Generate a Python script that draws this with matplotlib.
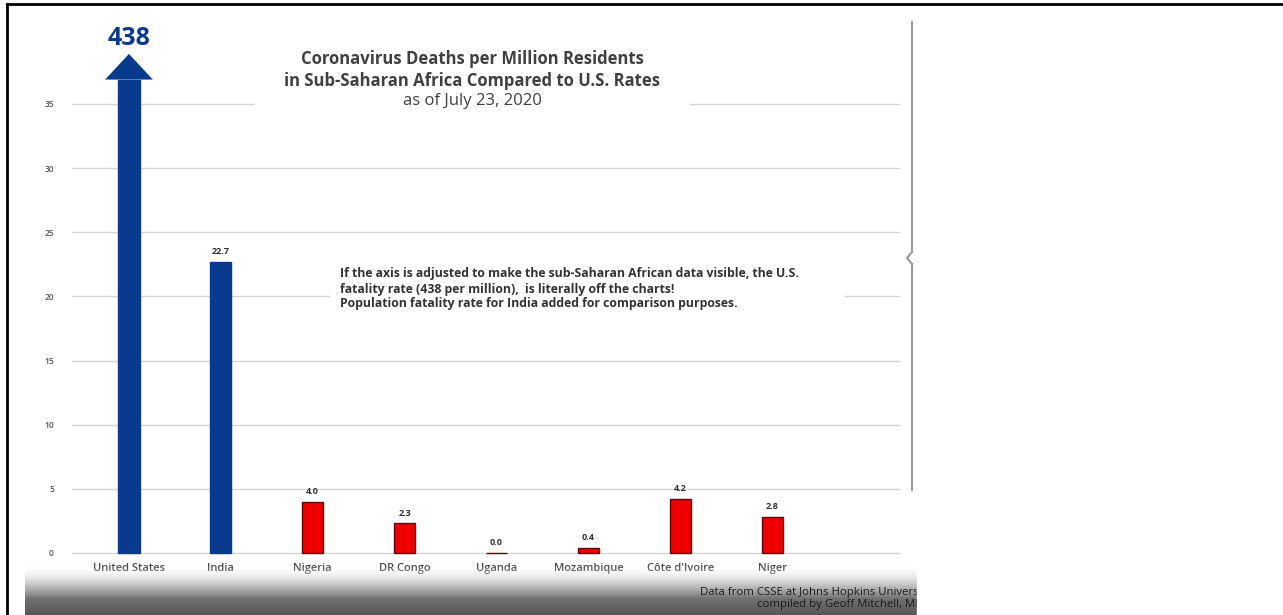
import matplotlib.pyplot as plt
from matplotlib.patches import Rectangle
from matplotlib.colors import LinearSegmentedColormap
import numpy as np

plt.rcParams['font.family'] = ['Open Sans', 'DejaVu Sans']

countries = ['United States', 'India', 'Nigeria', 'DR Congo', 'Uganda',
             'Mozambique', "Côte d'Ivoire", 'Niger']
deaths = [438, 22.7, 4.0, 2.3, 0.0, 0.4, 4.2, 2.8]
bar_colors = ['#0a3a8e', '#0a3a8e', '#ee0000', '#ee0000', '#ee0000',
              '#ee0000', '#ee0000', '#ee0000']
edge_colors = ['#0a3a8e', '#0a3a8e', '#5a0a0a', '#5a0a0a', '#5a0a0a',
               '#5a0a0a', '#5a0a0a', '#5a0a0a']
yticks = [0, 5, 10, 15, 20, 25, 30, 35]

title_lines = ['Coronavirus Deaths per Million Residents',
               'in Sub-Saharan Africa Compared to U.S. Rates']
subtitle = 'as of July 23, 2020'
note = ('If the axis is adjusted to make the sub-Saharan African data visible, the U.S.\n'
        'fatality rate (438 per million),  is literally off the charts!\n'
        'Population fatality rate for India added for comparison purposes.')
source = ['Data from CSSE at Johns Hopkins University',
          'compiled by Geoff Mitchell, MD, MPH']

W, H = 1283, 615
fig = plt.figure(figsize=(W / 100, H / 100), dpi=100)
fig.patch.set_facecolor('white')

# main chart axes, placed in pixel terms (12.83 px per unit)
ax = fig.add_axes([72 / W, (H - 555) / H, 828 / W, 535 / H])
ax.set_xlim(-0.62, 8.39)
ax.set_ylim(-2 / 12.83, 533 / 12.83)
for s in ax.spines.values():
    s.set_visible(False)
ax.set_yticks(yticks)
ax.set_yticklabels([str(t) for t in yticks], fontsize=6, color='#555555',
                   fontweight='semibold')
ax.yaxis.grid(True, color='#d4d4d4', lw=1)
ax.set_axisbelow(True)
ax.tick_params(axis='both', length=0)
ax.tick_params(axis='y', pad=13)
ax.tick_params(axis='x', pad=6)
x = np.arange(len(countries))
ax.set_xticks(x)
ax.set_xticklabels(countries, fontsize=8, color='#4a4a4a', fontweight='semibold')

# US bar is broken off at the top and finished with an arrow
cap = 36.9
heights = [min(v, cap) for v in deaths]
ax.bar(x, heights, width=0.23, color=bar_colors, edgecolor=edge_colors,
       linewidth=1, zorder=3)
ax.fill([x[0] - 0.26, x[0] + 0.26, x[0]], [cap, cap, cap + 2.0],
        color=bar_colors[0], zorder=3, lw=0)
ax.text(x[0], cap + 3.2, str(deaths[0]), ha='center', va='center',
        fontsize=18, fontweight='bold', color='#0a3a8e')
for xi, v in zip(x[1:], deaths[1:]):
    ax.text(xi, v + 0.8, f'{v:.1f}', ha='center', va='center',
            fontsize=6.5, color='#333333', fontweight='bold')

# overlay in pixel coordinates for titles, notes and frame
ov = fig.add_axes([0, 0, 1, 1], zorder=5)
ov.set_xlim(0, W)
ov.set_ylim(H, 0)
ov.axis('off')
ov.patch.set_alpha(0)

# white text boxes that hide the gridlines behind them
ov.add_patch(Rectangle((255, 45), 435, 68, fc='white', ec='none', zorder=0))
ov.add_patch(Rectangle((330, 264), 515, 50, fc='white', ec='none', zorder=0))

for i, line in enumerate(title_lines):
    ov.text(472, 59 + 21.5 * i, line, ha='center', va='center', fontsize=12,
            fontweight='bold', color='#404040')
ov.text(472, 101, subtitle, ha='center', va='center', fontsize=12,
        color='#404040')
ov.text(340, 289, note, ha='left', va='center', fontsize=8.8, fontweight='bold',
        color='#333333', linespacing=1.2)

# darkened footer band of the screenshot
grad = np.linspace(0, 1, 60)[:, None]
cmap = LinearSegmentedColormap.from_list(
    'fade', [(1, 1, 1, 0), (0.75, 0.75, 0.75, 0.7),
             (0.45, 0.45, 0.45, 1), (0.34, 0.34, 0.34, 1)])
ov.imshow(grad, cmap=cmap, extent=[25, 917, 615, 565], aspect='auto',
          interpolation='bilinear', zorder=1)
ov.text(700, 592, source[0], ha='left', va='center', fontsize=8.2,
        color='#1a1a1a', zorder=2)
ov.text(757, 605, source[1], ha='left', va='center', fontsize=8.2,
        color='#1a1a1a', zorder=2)
ov.set_xlim(0, W)
ov.set_ylim(H, 0)

# right hand slider line with notch
ov.plot([912, 912], [22, 252], color='#9a9a9a', lw=1.5)
ov.plot([912, 907, 912], [252, 258, 264], color='#9a9a9a', lw=1.5)
ov.plot([912, 912], [264, 490], color='#9a9a9a', lw=1.5)

# screenshot frame
ov.fill_between([917, W], 0, H, color='white', zorder=3)
ov.plot([7, W], [4, 4], color='black', lw=2, zorder=4)
ov.plot([7, 7], [4, H], color='black', lw=2, zorder=4)

fig.savefig('out.png', dpi=100)
